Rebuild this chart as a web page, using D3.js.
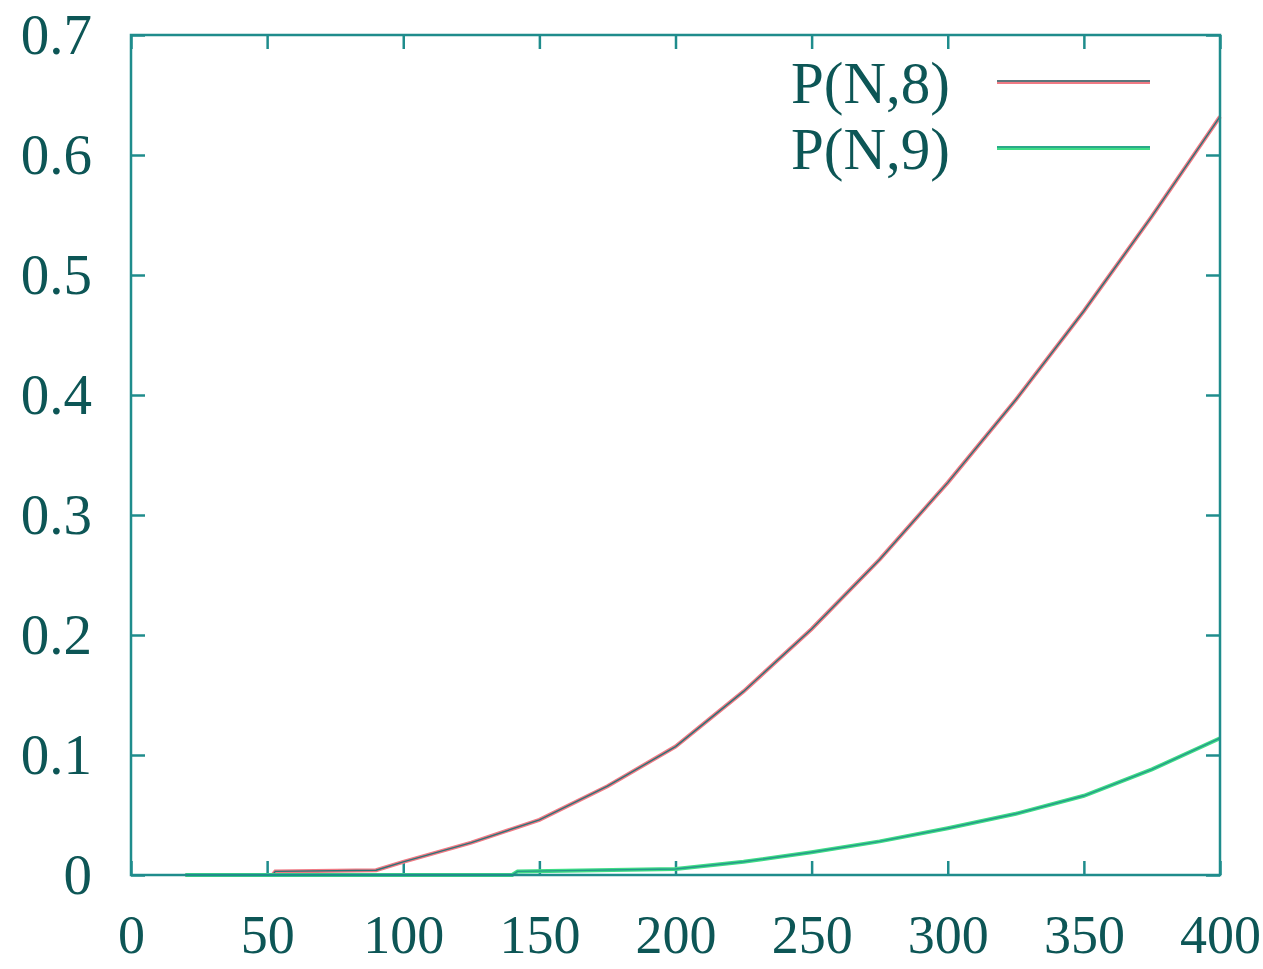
<!DOCTYPE html>
<html>
<head>
<meta charset="utf-8">
<script src="https://cdn.jsdelivr.net/npm/d3@7"></script>
<style>
    html, body { margin: 0; padding: 0; background: #ffffff; }
    svg { display: block; }
</style>
</head>
<body>
<svg id="chart"></svg>
<script>
// values
const seriesNames = ["P(N,8)", "P(N,9)"];
const p8N = [20, 52, 53, 90, 100, 125, 150, 175, 200, 225, 250, 275, 300, 325, 350, 375, 400];
const p8Values = [0, 0, 0.003, 0.004, 0.011, 0.027, 0.046, 0.074, 0.107, 0.153, 0.205, 0.263, 0.327, 0.396, 0.47, 0.549, 0.632];
const p9N = [20, 140, 142, 200, 225, 250, 275, 300, 325, 350, 375, 400];
const p9Values = [0, 0, 0.003, 0.005, 0.011, 0.019, 0.028, 0.039, 0.051, 0.066, 0.088, 0.114];
const xTicks = [0, 50, 100, 150, 200, 250, 300, 350, 400];
const yTicks = [0, 0.1, 0.2, 0.3, 0.4, 0.5, 0.6, 0.7];

const WIDTH = 1263;
const HEIGHT = 969;
const margin = { top: 35, right: 43, bottom: 94, left: 131 };
const FRAME_COLOR = "#1f8c8c";
const TEXT_COLOR = "#0d5656";
const FONT = "'Liberation Serif', 'DejaVu Serif', serif";

const svg = d3.select("#chart")
    .attr("width", WIDTH)
    .attr("height", HEIGHT)
    .attr("viewBox", `0 0 ${WIDTH} ${HEIGHT}`);

const innerW = WIDTH - margin.left - margin.right;
const innerH = HEIGHT - margin.top - margin.bottom;

const x = d3.scaleLinear().domain([0, 400]).range([0, innerW]);
const y = d3.scaleLinear().domain([0, 0.7]).range([innerH, 0]);

const plot = svg.append("g").attr("transform", `translate(${margin.left},${margin.top})`);

function styleAxis(g, withLabels, fontSize) {
    g.select(".domain").remove();
    g.selectAll(".tick line").attr("stroke", FRAME_COLOR).attr("stroke-width", 2.5);
    g.selectAll(".tick text")
        .attr("fill", TEXT_COLOR)
        .attr("font-family", FONT)
        .attr("font-size", fontSize);
    if (!withLabels) g.selectAll(".tick text").remove();
}

plot.append("g")
    .attr("transform", `translate(0,${innerH})`)
    .call(d3.axisBottom(x).tickValues(xTicks).tickSize(-14).tickPadding(40).tickFormat(d3.format("d")))
    .call((g) => styleAxis(g, true, 54));

plot.append("g")
    .call(d3.axisTop(x).tickValues(xTicks).tickSize(-14))
    .call((g) => styleAxis(g, false, 54));

plot.append("g")
    .call(d3.axisLeft(y).tickValues(yTicks).tickSize(-14).tickPadding(39).tickFormat((d) => d === 0 ? "0" : d3.format(".1f")(d)))
    .call((g) => styleAxis(g, true, 57));

plot.append("g")
    .attr("transform", `translate(${innerW},0)`)
    .call(d3.axisRight(y).tickValues(yTicks).tickSize(-14))
    .call((g) => styleAxis(g, false, 57));

// data lines: coloured pen with the dark scan-shifted centre line
const line = d3.line().x((d) => x(d.n)).y((d) => y(d.v));
const series = [
    { name: seriesNames[0], color: "#f07a84", core: "#2a7478", points: p8N.map((n, i) => ({ n, v: p8Values[i] })) },
    { name: seriesNames[1], color: "#3fdc86", core: "#25988a", points: p9N.map((n, i) => ({ n, v: p9Values[i] })) }
];

series.forEach((s) => {
    plot.append("path")
        .datum(s.points)
        .attr("d", line)
        .attr("fill", "none")
        .attr("stroke", s.color)
        .attr("stroke-width", 4);
    plot.append("path")
        .datum(s.points)
        .attr("d", line)
        .attr("fill", "none")
        .attr("stroke", s.core)
        .attr("stroke-width", 1.4);
});

// frame
plot.append("rect")
    .attr("x", 0)
    .attr("y", 0)
    .attr("width", innerW)
    .attr("height", innerH)
    .attr("fill", "none")
    .attr("stroke", FRAME_COLOR)
    .attr("stroke-width", 2.5);

// legend, top right
const legend = svg.append("g");
series.forEach((s, i) => {
    const cy = 82 + i * 66;
    legend.append("text")
        .attr("x", 950)
        .attr("y", cy)
        .attr("dy", "0.35em")
        .attr("text-anchor", "end")
        .attr("fill", TEXT_COLOR)
        .attr("font-family", FONT)
        .attr("font-size", 59)
        .text(s.name);
    legend.append("line")
        .attr("x1", 997).attr("x2", 1150)
        .attr("y1", cy).attr("y2", cy)
        .attr("stroke", s.color)
        .attr("stroke-width", 4);
    legend.append("line")
        .attr("x1", 997).attr("x2", 1150)
        .attr("y1", cy - 1).attr("y2", cy - 1)
        .attr("stroke", s.core)
        .attr("stroke-width", 1.4);
});
</script>
</body>
</html>
